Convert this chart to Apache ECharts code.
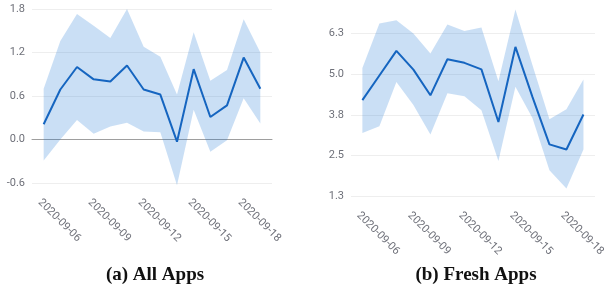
<!DOCTYPE html>
<html>
<head>
<meta charset="utf-8">
<script src="https://cdn.jsdelivr.net/npm/echarts@6/dist/echarts.min.js"></script>
<style>
html,body{margin:0;padding:0;background:#fff;}
#c{width:604px;height:287px;}
</style>
</head>
<body>
<div id="c"></div>
<script>
// Dates (x categories)
var dates = ['2020-09-06','2020-09-07','2020-09-08','2020-09-09','2020-09-10','2020-09-11','2020-09-12',
             '2020-09-13','2020-09-14','2020-09-15','2020-09-16','2020-09-17','2020-09-18','2020-09-19'];
var labelDates = ['2020-09-06','2020-09-09','2020-09-12','2020-09-15','2020-09-18'];

// (a) All Apps
var allMean  = [0.21, 0.69, 1.00, 0.83, 0.80, 1.02, 0.69, 0.62, -0.03, 0.97, 0.31, 0.47, 1.13, 0.70];
var allUpper = [0.70, 1.36, 1.73, 1.57, 1.40, 1.80, 1.28, 1.14, 0.62, 1.48, 0.81, 0.96, 1.66, 1.20];
var allLower = [-0.29, 0.00, 0.27, 0.08, 0.18, 0.23, 0.11, 0.10, -0.63, 0.41, -0.17, -0.01, 0.57, 0.22];

// (b) Fresh Apps
var freshMean  = [4.20, 4.96, 5.72, 5.14, 4.35, 5.46, 5.35, 5.15, 3.53, 5.84, 4.30, 2.84, 2.68, 3.76];
var freshUpper = [5.19, 6.56, 6.66, 6.25, 5.64, 6.53, 6.33, 6.44, 4.78, 6.99, 5.28, 3.61, 3.92, 4.84];
var freshLower = [3.19, 3.40, 4.76, 4.05, 3.14, 4.41, 4.32, 3.89, 2.33, 4.61, 3.65, 2.04, 1.48, 2.68];

var titles = ['(a) All Apps', '(b) Fresh Apps'];

var lineColor = '#1565c0';
var bandColor = 'rgba(25,118,210,0.23)';
var labelColor = '#6e7079';
var font = 'Roboto';

function pairs(arr){ return arr.map(function(v,i){ return [i, v]; }); }
var tickIdx = labelDates.map(function(d){ return dates.indexOf(d); });

function xAxis(gi, min, max){
  return {
    type:'value', gridIndex:gi, min:min, max:max,
    axisLine:{show: gi===0, onZero:true, lineStyle:{color:'#9e9e9e', width:1}},
    axisTick:{show:false},
    splitLine:{show:false},
    axisLabel:{
      customValues: tickIdx,
      rotate:-45, color:labelColor, fontFamily:font, fontSize:11, margin:14,
      verticalAlign:'top', align:'left',
      formatter:function(v){ return dates[Math.round(v)]; }
    }
  };
}
function yAxis(gi, min, max, interval){
  return {
    type:'value', gridIndex:gi, min:min, max:max, interval:interval,
    axisLine:{show:false}, axisTick:{show:false},
    splitLine:{lineStyle:{color:'#eeeeee', width:1}},
    axisLabel:{color:labelColor, fontFamily:font, fontSize:11, margin:7,
      formatter:function(v){ return v.toFixed(1); }}
  };
}
function bandSeries(ai, lo, up, mean){
  var bandData = lo.map(function(v,i){ return [i, v, up[i]]; });
  return [
    {type:'custom', xAxisIndex:ai, yAxisIndex:ai, data:bandData, silent:true, z:1,
     encode:{x:0, y:[1,2]},
     renderItem:function(params, api){
       if (params.dataIndex !== 0) return null;
       var pts = [];
       for (var i = 0; i < up.length; i++) pts.push(api.coord([i, up[i]]));
       for (var j = lo.length - 1; j >= 0; j--) pts.push(api.coord([j, lo[j]]));
       return {type:'polygon', shape:{points:pts}, style:{fill:bandColor}};
     }},
    {type:'line', xAxisIndex:ai, yAxisIndex:ai, data:pairs(mean),
     symbol:'none', lineStyle:{color:lineColor, width:2}, itemStyle:{color:lineColor}, z:3}
  ];
}

var chart = echarts.init(document.getElementById('c'), null, {renderer:'canvas'});
chart.setOption({
  animation:false,
  backgroundColor:'#ffffff',
  grid:[
    {left:32, top:9, width:240, height:174, outerBoundsMode:'none', containLabel:false},
    {left:351, top:-7, width:244, height:203, outerBoundsMode:'none', containLabel:false}
  ],
  xAxis:[ xAxis(0, -0.7, 13.7), xAxis(1, -0.67, 13.68) ],
  yAxis:[ yAxis(0, -0.6, 1.8, 0.6), yAxis(1, 1.25, 7.5, 1.25) ],
  series: bandSeries(0, allLower, allUpper, allMean)
          .concat(bandSeries(1, freshLower, freshUpper, freshMean)),
  graphic:[
    {type:'text', x:155, y:275, style:{text:titles[0], font:'bold 19px "Liberation Serif"', fill:'#111', textAlign:'center', textVerticalAlign:'middle'}},
    {type:'text', x:476, y:275, style:{text:titles[1], font:'bold 19px "Liberation Serif"', fill:'#111', textAlign:'center', textVerticalAlign:'middle'}}
  ]
});
</script>
</body>
</html>
